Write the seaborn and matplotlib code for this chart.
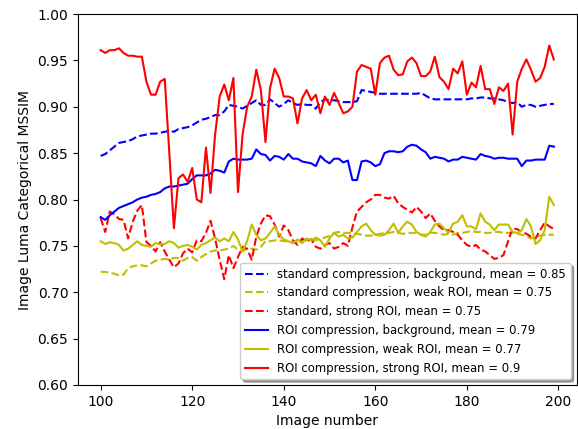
import numpy as np
import pandas as pd
import matplotlib
matplotlib.use("Agg")
import matplotlib.pyplot as plt
import seaborn as sns

image_number = list(range(100, 200))

std_background = [
    0.847, 0.849, 0.853, 0.857, 0.861, 0.862, 0.863, 0.865, 0.868, 0.869,
    0.870, 0.871, 0.871, 0.872, 0.873, 0.874, 0.873, 0.876, 0.877, 0.878,
    0.880, 0.883, 0.886, 0.887, 0.889, 0.891, 0.891, 0.895, 0.902, 0.901,
    0.900, 0.898, 0.901, 0.904, 0.907, 0.902, 0.902, 0.908, 0.904, 0.900,
    0.903, 0.907, 0.904, 0.902, 0.903, 0.902, 0.902, 0.898, 0.905, 0.908,
    0.907, 0.907, 0.906, 0.905, 0.905, 0.905, 0.906, 0.918, 0.917, 0.916,
    0.915, 0.914, 0.914, 0.914, 0.914, 0.914, 0.914, 0.914, 0.914, 0.914,
    0.915, 0.912, 0.909, 0.908, 0.908, 0.908, 0.908, 0.908, 0.908, 0.908,
    0.908, 0.909, 0.909, 0.910, 0.910, 0.909, 0.909, 0.908, 0.907, 0.905,
    0.904, 0.905, 0.900, 0.902, 0.902, 0.900, 0.901, 0.902, 0.903, 0.903,
]

std_weak = [
    0.722, 0.722, 0.721, 0.720, 0.718, 0.719, 0.726, 0.728, 0.729, 0.729,
    0.728, 0.731, 0.734, 0.735, 0.736, 0.735, 0.737, 0.737, 0.734, 0.737,
    0.738, 0.734, 0.738, 0.741, 0.744, 0.745, 0.745, 0.746, 0.747, 0.750,
    0.746, 0.744, 0.747, 0.747, 0.746, 0.749, 0.755, 0.755, 0.756, 0.756,
    0.755, 0.755, 0.753, 0.755, 0.755, 0.756, 0.756, 0.756, 0.758, 0.759,
    0.761, 0.764, 0.765, 0.764, 0.764, 0.764, 0.763, 0.762, 0.761, 0.761,
    0.762, 0.763, 0.764, 0.764, 0.765, 0.764, 0.763, 0.764, 0.764, 0.764,
    0.762, 0.762, 0.764, 0.764, 0.763, 0.762, 0.763, 0.762, 0.764, 0.764,
    0.765, 0.766, 0.765, 0.765, 0.764, 0.764, 0.765, 0.765, 0.764, 0.764,
    0.764, 0.763, 0.762, 0.760, 0.758, 0.759, 0.761, 0.762, 0.762, 0.762,
]

std_strong = [
    0.780, 0.765, 0.787, 0.784, 0.779, 0.778, 0.758, 0.776, 0.788, 0.794,
    0.754, 0.750, 0.744, 0.754, 0.744, 0.735, 0.727, 0.731, 0.742, 0.747,
    0.743, 0.756, 0.755, 0.764, 0.777, 0.758, 0.735, 0.714, 0.740, 0.726,
    0.738, 0.749, 0.747, 0.735, 0.760, 0.774, 0.783, 0.782, 0.773, 0.760,
    0.772, 0.767, 0.756, 0.751, 0.758, 0.755, 0.757, 0.749, 0.747, 0.751,
    0.753, 0.747, 0.749, 0.753, 0.750, 0.770, 0.787, 0.792, 0.797, 0.800,
    0.805, 0.805, 0.802, 0.801, 0.804, 0.796, 0.792, 0.789, 0.786, 0.792,
    0.787, 0.780, 0.785, 0.777, 0.771, 0.767, 0.767, 0.765, 0.762, 0.756,
    0.751, 0.749, 0.751, 0.746, 0.744, 0.740, 0.736, 0.737, 0.740, 0.755,
    0.769, 0.768, 0.765, 0.763, 0.760, 0.758, 0.767, 0.775, 0.771, 0.768,
]

roi_background = [
    0.781, 0.778, 0.783, 0.787, 0.791, 0.793, 0.795, 0.797, 0.800, 0.802,
    0.803, 0.805, 0.806, 0.808, 0.812, 0.814, 0.814, 0.815, 0.816, 0.817,
    0.822, 0.826, 0.826, 0.826, 0.828, 0.832, 0.831, 0.829, 0.841, 0.844,
    0.843, 0.843, 0.843, 0.844, 0.854, 0.849, 0.848, 0.842, 0.847, 0.846,
    0.843, 0.849, 0.844, 0.844, 0.841, 0.840, 0.839, 0.836, 0.847, 0.842,
    0.839, 0.844, 0.844, 0.840, 0.842, 0.821, 0.821, 0.841, 0.842, 0.840,
    0.836, 0.838, 0.850, 0.852, 0.852, 0.851, 0.852, 0.857, 0.859, 0.858,
    0.854, 0.851, 0.844, 0.846, 0.845, 0.844, 0.841, 0.843, 0.843, 0.846,
    0.845, 0.844, 0.843, 0.849, 0.847, 0.846, 0.844, 0.845, 0.845, 0.844,
    0.844, 0.844, 0.836, 0.842, 0.842, 0.843, 0.843, 0.843, 0.858, 0.857,
]

roi_weak = [
    0.755, 0.752, 0.754, 0.753, 0.751, 0.745, 0.747, 0.751, 0.755, 0.751,
    0.750, 0.749, 0.753, 0.752, 0.752, 0.755, 0.753, 0.748, 0.750, 0.751,
    0.749, 0.746, 0.751, 0.753, 0.756, 0.759, 0.755, 0.758, 0.755, 0.765,
    0.757, 0.744, 0.755, 0.773, 0.762, 0.756, 0.758, 0.764, 0.771, 0.762,
    0.757, 0.755, 0.753, 0.757, 0.753, 0.758, 0.756, 0.759, 0.756, 0.749,
    0.758, 0.764, 0.760, 0.762, 0.758, 0.759, 0.765, 0.771, 0.774, 0.767,
    0.762, 0.761, 0.762, 0.767, 0.774, 0.764, 0.771, 0.776, 0.773, 0.765,
    0.762, 0.760, 0.765, 0.773, 0.774, 0.769, 0.764, 0.774, 0.776, 0.783,
    0.771, 0.771, 0.768, 0.785, 0.776, 0.773, 0.767, 0.773, 0.773, 0.773,
    0.765, 0.764, 0.767, 0.779, 0.771, 0.752, 0.756, 0.767, 0.803, 0.794,
]

roi_strong = [
    0.961, 0.958, 0.961, 0.961, 0.963, 0.958, 0.955, 0.955, 0.954, 0.954,
    0.927, 0.913, 0.913, 0.927, 0.930, 0.850, 0.769, 0.823, 0.827, 0.819,
    0.834, 0.800, 0.797, 0.856, 0.807, 0.870, 0.911, 0.924, 0.907, 0.931,
    0.808, 0.870, 0.900, 0.911, 0.940, 0.918, 0.862, 0.920, 0.941, 0.931,
    0.911, 0.911, 0.909, 0.882, 0.909, 0.918, 0.907, 0.913, 0.893, 0.911,
    0.902, 0.915, 0.904, 0.893, 0.895, 0.900, 0.938, 0.945, 0.943, 0.941,
    0.913, 0.947, 0.953, 0.955, 0.940, 0.934, 0.935, 0.949, 0.953, 0.947,
    0.933, 0.933, 0.938, 0.954, 0.932, 0.927, 0.919, 0.941, 0.936, 0.949,
    0.913, 0.926, 0.921, 0.944, 0.919, 0.919, 0.903, 0.921, 0.917, 0.925,
    0.870, 0.927, 0.941, 0.951, 0.940, 0.927, 0.931, 0.943, 0.966, 0.951,
]

series_labels = [
    "standard compression, background, mean = 0.85",
    "standard compression, weak ROI, mean = 0.75",
    "standard, strong ROI, mean = 0.75",
    "ROI compression, background, mean = 0.79",
    "ROI compression, weak ROI, mean = 0.77",
    "ROI compression, strong ROI, mean = 0.9",
]
series_values = [std_background, std_weak, std_strong,
                 roi_background, roi_weak, roi_strong]
series_colors = ["b", "y", "r", "b", "y", "r"]
series_styles = ["--", "--", "--", "-", "-", "-"]

y_ticks = [0.60, 0.65, 0.70, 0.75, 0.80, 0.85, 0.90, 0.95, 1.00]
x_ticks = [100, 120, 140, 160, 180, 200]

fig = plt.figure(figsize=(5.78, 4.29), dpi=100)
ax = fig.add_axes([78 / 578, 44 / 429, 498.5 / 578, 371 / 429])

for lab, vals, col, ls in zip(series_labels, series_values, series_colors, series_styles):
    df = pd.DataFrame({"Image number": image_number, "value": vals})
    sns.lineplot(data=df, x="Image number", y="value", color=col,
                 linestyle=ls, linewidth=1.5, label=lab, ax=ax, legend=False)

ax.set_ylim(0.60, 1.00)
ax.set_xlim(95.05, 203.95)
ax.set_yticks(y_ticks)
ax.set_yticklabels([f"{t:.2f}" for t in y_ticks])
ax.set_xticks(x_ticks)
ax.set_xlabel("Image number")
ax.set_ylabel("Image Luma Categorical MSSIM")

ax.legend(loc="lower right", fontsize="small", shadow=True, fancybox=True)

fig.savefig("out.png", dpi=100)
